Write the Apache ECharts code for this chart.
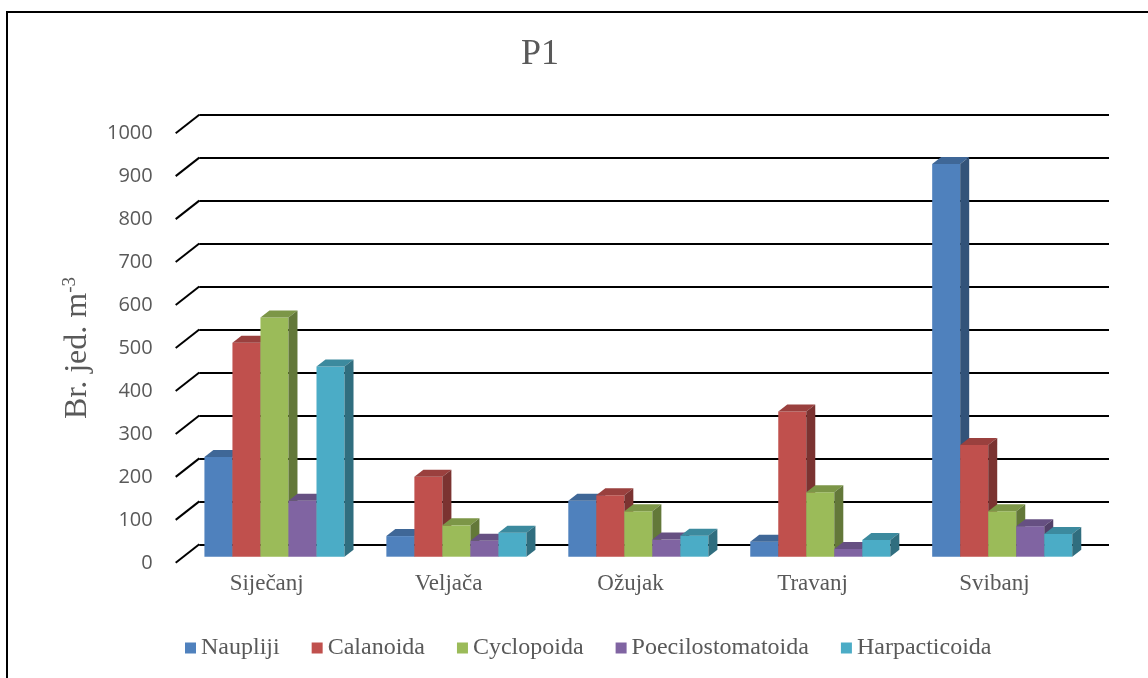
<!DOCTYPE html>
<html>
<head>
<meta charset="utf-8">
<title>P1</title>
<script src="https://cdn.jsdelivr.net/npm/echarts@6/dist/echarts.min.js"></script>
<style>
  html, body { margin: 0; padding: 0; background: #fff; }
  #main { width: 1148px; height: 678px; }
</style>
</head>
<body>
<div id="main"></div>
<script>
// data
var months = ['Siječanj', 'Veljača', 'Ožujak', 'Travanj', 'Svibanj'];
var taxa = ['Naupliji', 'Calanoida', 'Cyclopoida', 'Poecilostomatoida', 'Harpacticoida'];
var naupliji = [232, 48, 130, 35, 914];
var calanoida = [498, 186, 143, 338, 260];
var cyclopoida = [557, 73, 106, 150, 106];
var poecilostomatoida = [130, 37, 40, 18, 71];
var harpacticoida = [443, 56, 49, 39, 53];
var yTicks = [0, 100, 200, 300, 400, 500, 600, 700, 800, 900, 1000];

var seriesValues = [naupliji, calanoida, cyclopoida, poecilostomatoida, harpacticoida];
var colors = ['#4F81BD', '#C0504D', '#9BBB59', '#8064A2', '#4BACC6'];

// fake 3d depth (pixels)
var WALL_DX = 23.6, WALL_DY = 18.5;
var BAR_DX = 9, BAR_DY = 7;
var GROUP = 0.77;

function shade(hex, f) {
    var n = parseInt(hex.slice(1), 16);
    var r = Math.round(((n >> 16) & 255) * f);
    var g = Math.round(((n >> 8) & 255) * f);
    var b = Math.round((n & 255) * f);
    return 'rgb(' + r + ',' + g + ',' + b + ')';
}

var myChart = echarts.init(document.getElementById('main'));

var series = [];

// diagonal lines of the left wall
series.push({
    type: 'custom',
    xAxisIndex: 0,
    yAxisIndex: 0,
    z: 1,
    silent: true,
    data: yTicks.map(function (t) { return [0, t]; }),
    renderItem: function (params, api) {
        var p = api.coord([0, api.value(1)]);
        return {
            type: 'line',
            shape: { x1: p[0], y1: p[1], x2: p[0] - WALL_DX, y2: p[1] + WALL_DY },
            style: { stroke: '#000', lineWidth: 2 }
        };
    }
});

seriesValues.forEach(function (vals, k) {
    series.push({
        name: taxa[k],
        type: 'custom',
        xAxisIndex: 1,
        yAxisIndex: 1,
        z: 2,
        itemStyle: { color: colors[k] },
        data: vals.map(function (v, i) { return [i, v]; }),
        renderItem: function (params, api) {
            var base = api.coord([api.value(0), 0]);
            var top = api.coord([api.value(0), api.value(1)]);
            var band = api.size([1, 0])[0];
            var w = band * GROUP / taxa.length;
            var x0 = base[0] - w * taxa.length / 2 + k * w;
            var y0 = base[1], y1 = top[1];
            return {
                type: 'group',
                children: [
                    {
                        type: 'rect',
                        shape: { x: x0, y: y1, width: w, height: y0 - y1 },
                        style: { fill: colors[k] }
                    },
                    {
                        type: 'polygon',
                        shape: { points: [[x0, y1], [x0 + w, y1], [x0 + w + BAR_DX, y1 - BAR_DY], [x0 + BAR_DX, y1 - BAR_DY]] },
                        style: { fill: shade(colors[k], 0.8) }
                    },
                    {
                        type: 'polygon',
                        shape: { points: [[x0 + w, y1], [x0 + w + BAR_DX, y1 - BAR_DY], [x0 + w + BAR_DX, y0 - BAR_DY], [x0 + w, y0]] },
                        style: { fill: shade(colors[k], 0.64) }
                    }
                ]
            };
        }
    });
});

var option = {
    animation: false,
    backgroundColor: '#fff',
    title: {
        text: 'P1',
        left: 540,
        top: 37,
        padding: 0,
        textAlign: 'center',
        textStyle: { fontFamily: 'Liberation Serif', fontSize: 36, fontWeight: 'normal', color: '#595959' }
    },
    legend: {
        data: taxa,
        left: 185,
        top: 636,
        padding: 0,
        icon: 'rect',
        itemWidth: 11,
        itemHeight: 11,
        itemGap: 32,
        textStyle: { fontFamily: 'Liberation Serif', fontSize: 24, color: '#595959' }
    },
    grid: [
        // back wall
        { left: 199.3, right: 39, top: 114.7, bottom: 133.7 },
        // plane of the bars
        { left: 183.5, right: 54.8, top: 127.1, bottom: 121.3 },
        // front edge of floor (labels)
        { left: 175.7, right: 62.6, top: 133.2, bottom: 115.2 }
    ],
    xAxis: [
        { gridIndex: 0, type: 'value', min: 0, max: 1, show: false },
        { gridIndex: 1, type: 'category', data: months, show: false },
        {
            gridIndex: 2, type: 'category', data: months,
            axisLine: { show: false }, axisTick: { show: false },
            axisLabel: { margin: 10, fontFamily: 'Liberation Serif', fontSize: 23, color: '#595959' }
        }
    ],
    yAxis: [
        {
            gridIndex: 0, type: 'value', min: 0, max: 1000, interval: 100,
            axisLine: { show: false }, axisTick: { show: false }, axisLabel: { show: false },
            splitLine: { show: true, lineStyle: { color: '#000', width: 2 } }
        },
        { gridIndex: 1, type: 'value', min: 0, max: 1000, interval: 100, show: false },
        {
            gridIndex: 2, type: 'value', min: 0, max: 1000, interval: 100,
            axisLine: { show: false }, axisTick: { show: false },
            splitLine: { show: false },
            axisLabel: {
                margin: 23, fontFamily: 'Open Sans', fontSize: 20, color: '#595959',
                formatter: function (v) { return String(v); }
            },
            name: 'Br. jed. m{sup|-3}',
            nameLocation: 'middle',
            nameRotate: 90,
            nameGap: 72,
            nameTextStyle: {
                fontFamily: 'Liberation Serif', fontSize: 32, color: '#595959', lineHeight: 36,
                rich: {
                    sup: { fontFamily: 'Liberation Serif', fontSize: 19, color: '#595959', lineHeight: 19, verticalAlign: 'top' }
                }
            }
        }
    ],
    graphic: [
        {
            type: 'rect',
            silent: true,
            z: 0,
            shape: { x: 7, y: 12, width: 1170, height: 700 },
            style: { fill: 'none', stroke: '#000', lineWidth: 2 }
        }
    ],
    series: series
};

myChart.setOption(option);
</script>
</body>
</html>
